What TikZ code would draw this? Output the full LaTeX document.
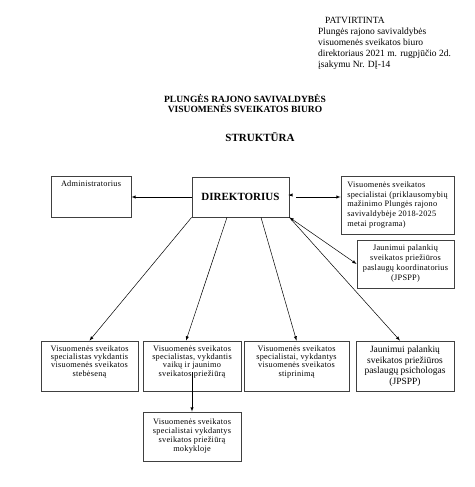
\documentclass[tikz,border=0pt]{standalone}
\usepackage{fontspec}
\setmainfont{Liberation Serif}
\newfontfamily\boxfont[LetterSpace=3]{Liberation Serif}
\usetikzlibrary{
    arrows,
    calc
}

\begin{document}
\begin{tikzpicture}[x=1pt, y=-1pt, >=latex,
    orgbox/.style={draw=black!75, line width=0.8pt, inner sep=2pt, align=center,
        font=\boxfont\fontsize{8.3}{8.2}\selectfont},
    link/.style={->, line width=0.5pt}]
    \useasboundingbox (0,0) rectangle (474,487);
    \node[anchor=north west, inner sep=0pt, align=left, font=\fontsize{9.5}{11}\selectfont] (approval) at (318,17.5)
        {\hspace{7pt}PATVIRTINTA\\Plungės rajono savivaldybės\\visuomenės sveikatos biuro\\direktoriaus 2021 m. rugpjūčio 2d.\\įsakymu Nr. DĮ-14};
    \node[align=center, inner sep=0pt, font=\bfseries\fontsize{9.5}{10.5}\selectfont] (title) at (245,103.5)
        {PLUNGĖS RAJONO SAVIVALDYBĖS\\VISUOMENĖS SVEIKATOS BIURO};
    \node[inner sep=0pt, font=\bfseries\fontsize{11}{12}\selectfont] (struct) at (260,137) {STRUKTŪRA};
    \node[orgbox, minimum width=80pt, minimum height=41pt, text height=6pt, text depth=26pt] (admin) at (91,196.5) {Administratorius};
    \node[orgbox, minimum width=97pt, minimum height=40pt, font=\bfseries\fontsize{11}{12}\selectfont] (dir) at (240.5,197) {DIREKTORIUS};
    \node[orgbox, minimum width=113pt, minimum height=58pt, align=left, font=\boxfont\fontsize{8.3}{9.8}\selectfont] (spec) at (397.5,205)
        {Visuomenės sveikatos\\specialistai (priklausomybių\\mažinimo Plungės rajono\\savivaldybėje 2018-2025\\metai programa)};
    \node[orgbox, minimum width=97pt, minimum height=48pt, font=\boxfont\fontsize{8.3}{10}\selectfont] (coord) at (405.5,264)
        {Jaunimui palankių\\sveikatos priežiūros\\paslaugų koordinatorius\\(JPSPP)};
    \node[orgbox, minimum width=97pt, minimum height=50pt] (watch) at (89.5,366)
        {Visuomenės sveikatos\\specialistas vykdantis\\visuomenės sveikatos\\stebėseną\\[2pt]\mbox{}};
    \node[orgbox, minimum width=98pt, minimum height=50pt] (youth) at (192,366)
        {Visuomenės sveikatos\\specialistas, vykdantis\\vaikų ir jaunimo\\sveikatos priežiūrą\\[2pt]\mbox{}};
    \node[orgbox, minimum width=105pt, minimum height=50pt] (promo) at (296.5,366)
        {Visuomenės sveikatos\\specialistai, vykdantys\\visuomenės sveikatos\\stiprinimą\\[2pt]\mbox{}};
    \node[orgbox, minimum width=98pt, minimum height=50pt, font=\fontsize{9.5}{10.5}\selectfont] (psych) at (405,366)
        {Jaunimui palankių\\sveikatos priežiūros\\paslaugų psichologas\\(JPSPP)};
    \node[orgbox, minimum width=98pt, minimum height=49pt, font=\boxfont\fontsize{8.3}{9}\selectfont] (school) at (192,436.5)
        {Visuomenės sveikatos\\specialistai vykdantys\\sveikatos priežiūrą\\mokykloje};
    \draw
    (dir.west) edge[link] (admin.east |- dir.west)
    ($(dir.east)+(7,0)$) edge[link] (spec.west |- dir.east)
    ($(dir.east)+(1,-2)$) edge[link] ++(-2,0)
    (dir.south east) edge[link, <->] (coord.west)
    (dir.south east) edge[link] ($(psych.north)+(-5,0)$)
    (dir.south west) edge[link] (watch.north)
    ($(dir.south)+(-13.5,0)$) edge[link] ($(youth.north)+(-6,0)$)
    ($(dir.south)+(20.5,0)$) edge[link] (promo.north)
    ($(youth.center)+(0,6)$) edge[link] (school.north);
\end{tikzpicture}
\end{document}
